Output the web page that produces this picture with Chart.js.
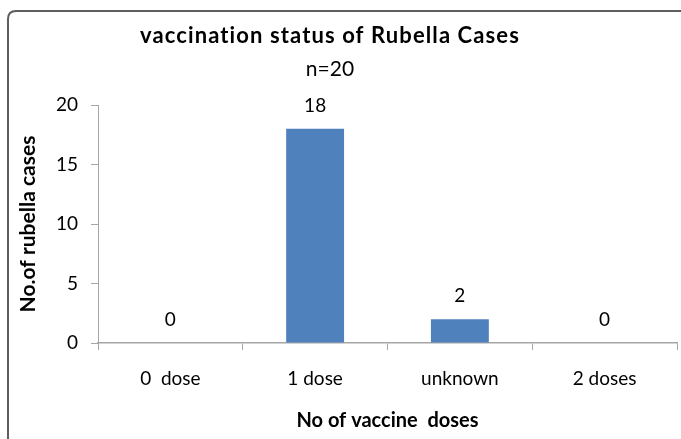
<!DOCTYPE html>
<html>
<head>
<meta charset="utf-8">
<script src="https://cdn.jsdelivr.net/npm/chart.js@4"></script>
<style>
  html, body { margin: 0; padding: 0; background: #ffffff; }
  #wrap { width: 681px; height: 439px; position: relative; }
</style>
</head>
<body>
<div id="wrap"><canvas id="c" width="681" height="439"></canvas></div>
<script>
// Rubella cases by vaccination status
const categories = ['0  dose', '1 dose', 'unknown', '2 doses'];
const cases = [0, 18, 2, 0];
const yTicks = [0, 5, 10, 15, 20];
const chartTitle = 'vaccination status of Rubella Cases';
const chartSubtitle = 'n=20';
const xTitle = 'No of vaccine  doses';
const yTitle = 'No.of rubella cases';

const FONT = 'Lato, "Open Sans", sans-serif';
const AXIS_GREY = '#a6a6a6';

// Outer frame with rounded corner, running off the right and bottom edges
const framePlugin = {
  id: 'frame',
  beforeDraw(chart) {
    const ctx = chart.ctx;
    ctx.save();
    ctx.strokeStyle = '#5e5e5e';
    ctx.lineWidth = 2;
    const x = 8, y = 11, w = 700, h = 460, r = 8;
    ctx.beginPath();
    ctx.moveTo(x + r, y);
    ctx.lineTo(x + w, y);
    ctx.moveTo(x, y + h);
    ctx.lineTo(x, y + r);
    ctx.quadraticCurveTo(x, y, x + r, y);
    ctx.stroke();
    ctx.restore();
  }
};

// Heading and sample size
const headingPlugin = {
  id: 'heading',
  afterDraw(chart) {
    const ctx = chart.ctx;
    ctx.save();
    ctx.fillStyle = '#000';
    ctx.textAlign = 'center';
    ctx.textBaseline = 'alphabetic';
    ctx.font = 'bold 22px ' + FONT;
    ctx.letterSpacing = '1.1px';
    ctx.fillText(chartTitle, 330, 43);
    ctx.letterSpacing = '0px';
    ctx.font = '21px ' + FONT;
    ctx.fillText(chartSubtitle, 330, 76);
    ctx.restore();
  }
};

// Value labels above each bar
const valueLabelPlugin = {
  id: 'valueLabels',
  afterDatasetsDraw(chart) {
    const ctx = chart.ctx;
    const meta = chart.getDatasetMeta(0);
    ctx.save();
    ctx.fillStyle = '#000';
    ctx.textAlign = 'center';
    ctx.textBaseline = 'middle';
    ctx.font = '19px ' + FONT;
    meta.data.forEach((bar, i) => {
      ctx.fillText(String(cases[i]), bar.x, bar.y - 23);
    });
    ctx.restore();
  }
};

new Chart(document.getElementById('c'), {
  type: 'bar',
  data: {
    labels: categories,
    datasets: [{
      data: cases,
      backgroundColor: '#4f81bd',
      borderWidth: 0,
      barPercentage: 0.4,
      categoryPercentage: 1.0
    }]
  },
  options: {
    responsive: false,
    animation: false,
    devicePixelRatio: 1,
    layout: { padding: { left: 0, right: 4, top: 105, bottom: 0 } },
    plugins: {
      legend: { display: false },
      title: { display: false },
      tooltip: { enabled: false }
    },
    scales: {
      x: {
        grid: {
          offset: true,
          drawOnChartArea: false,
          drawTicks: true,
          tickLength: 7,
          color: AXIS_GREY
        },
        border: { display: true, color: AXIS_GREY, width: 1.5 },
        ticks: {
          color: '#000',
          font: { family: FONT, size: 19 },
          padding: 17,
          maxRotation: 0
        },
        title: {
          display: true,
          text: xTitle,
          color: '#000',
          font: { family: FONT, size: 20, weight: 'bold' },
          padding: { top: 0, bottom: 6 }
        },
        afterFit(scale) { scale.height = 96; }
      },
      y: {
        min: 0,
        max: 20,
        afterBuildTicks(scale) { scale.ticks = yTicks.map(v => ({ value: v })); },
        grid: {
          drawOnChartArea: false,
          drawTicks: true,
          tickLength: 7,
          color: AXIS_GREY
        },
        border: { display: true, color: AXIS_GREY, width: 1 },
        ticks: {
          color: '#000',
          font: { family: FONT, size: 19 },
          padding: 13
        },
        title: {
          display: true,
          text: yTitle,
          color: '#000',
          font: { family: FONT, size: 21, weight: 'bold' },
          padding: { top: 16, bottom: 0 }
        },
        afterFit(scale) { scale.width = 98; }
      }
    }
  },
  plugins: [framePlugin, headingPlugin, valueLabelPlugin]
});
</script>
</body>
</html>
